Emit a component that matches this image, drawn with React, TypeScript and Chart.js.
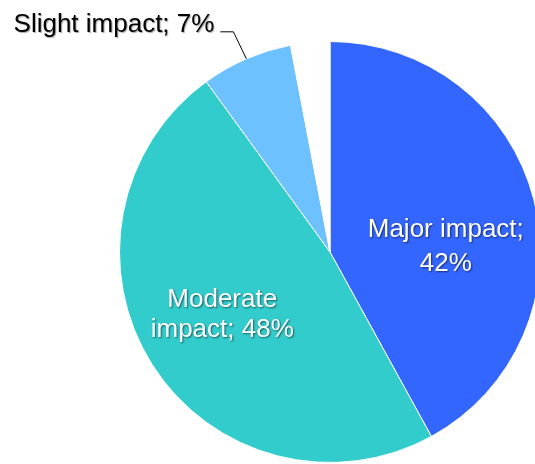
import React, { useEffect, useRef } from "react";
import { Chart, registerables } from "chart.js";

Chart.register(...registerables);

const categories = ["Major impact", "Moderate impact", "Slight impact", "No impact"];
const values = [42, 48, 7, 3];
const colors = ["#3366FF", "#33CCCC", "#6EC1FF", "#FFFFFF"];
const labelLines: string[][] = [
  ["Major impact;", "42%"],
  ["Moderate", "impact; 48%"],
  ["Slight impact; 7%"],
  [],
];

const FONT = '26px "Liberation Sans", Arial, sans-serif';

const labelPlugin = {
  id: "sliceLabels",
  afterDatasetsDraw(chart: any) {
    const ctx = chart.ctx as CanvasRenderingContext2D;
    const meta = chart.getDatasetMeta(0);
    const arcs = meta.data as any[];
    if (!arcs.length) return;
    const a0 = arcs[0].getProps(["x", "y", "outerRadius"], true);
    const cx = a0.x;
    const cy = a0.y;
    const r = a0.outerRadius;

    ctx.save();
    ctx.font = FONT;
    ctx.textAlign = "center";
    ctx.textBaseline = "alphabetic";

    // white labels with soft dark shadow
    ctx.fillStyle = "#FFFFFF";
    ctx.shadowColor = "rgba(0,0,0,0.55)";
    ctx.shadowOffsetX = 1;
    ctx.shadowOffsetY = 1;
    ctx.shadowBlur = 2;

    // Major
    const mx = cx + r * 0.55;
    ctx.fillText(labelLines[0][0], mx, cy - 15);
    ctx.fillText(labelLines[0][1], mx, cy + 19);

    // Moderate
    const dx = cx - r * 0.512;
    ctx.fillText(labelLines[1][0], dx, cy + 55);
    ctx.fillText(labelLines[1][1], dx, cy + 85);

    // Slight: outside label with leader line
    const s = arcs[2].getProps(["startAngle", "endAngle"], true);
    const mid = (s.startAngle + s.endAngle) / 2;
    const px = cx + Math.cos(mid) * r;
    const py = cy + Math.sin(mid) * r;
    const ex = px - 13;
    const ey = py - 27;
    ctx.shadowColor = "rgba(0,0,0,0)";
    ctx.strokeStyle = "#000000";
    ctx.lineWidth = 1;
    ctx.beginPath();
    ctx.moveTo(px, py);
    ctx.lineTo(ex, ey);
    ctx.lineTo(ex - 13, ey);
    ctx.stroke();

    ctx.textAlign = "right";
    ctx.shadowColor = "rgba(0,0,0,0.35)";
    ctx.shadowOffsetX = 1;
    ctx.shadowOffsetY = 1;
    ctx.shadowBlur = 1;
    ctx.fillStyle = "#000000";
    ctx.fillText(labelLines[2][0], ex - 19, ey);
    ctx.restore();
  },
};

export default function App() {
  const ref = useRef<HTMLCanvasElement | null>(null);
  useEffect(() => {
    if (!ref.current) return;
    const chart = new Chart(ref.current, {
      type: "pie",
      data: {
        labels: categories,
        datasets: [
          {
            data: values,
            backgroundColor: colors,
            borderColor: "#FFFFFF",
            borderWidth: 1,
            hoverOffset: 0,
          },
        ],
      },
      options: {
        responsive: false,
        animation: false,
        devicePixelRatio: 1,
        layout: { padding: { left: 119, right: 19, top: 41, bottom: 1 } },
        plugins: {
          legend: { display: false },
          tooltip: { enabled: false },
        },
      },
      plugins: [labelPlugin],
    });
    return () => chart.destroy();
  }, []);
  return (
    <div
      style={{
        position: "fixed",
        left: 0,
        top: 0,
        width: 535,
        height: 464,
        overflow: "hidden",
        background: "#FFFFFF",
      }}
    >
      <canvas
        ref={ref}
        width={560}
        height={464}
        style={{ width: 560, height: 464, display: "block" }}
      />
    </div>
  );
}
